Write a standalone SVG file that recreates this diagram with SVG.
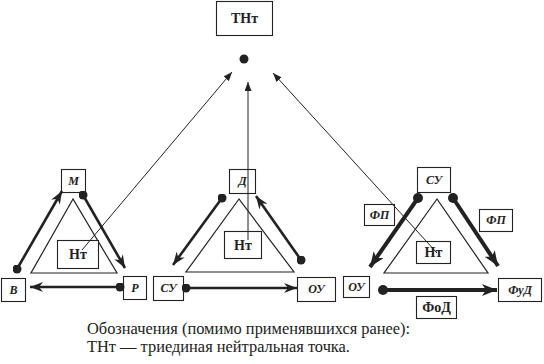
<svg xmlns="http://www.w3.org/2000/svg" width="544" height="364" viewBox="0 0 544 364">
<style>
.box{fill:#fff;stroke:#222;stroke-width:1.1}
.tri{fill:none;stroke:#222;stroke-width:1.2}
.lbl{font-family:"Liberation Serif",serif;font-weight:bold;font-style:italic;font-size:12px;fill:#222;text-anchor:middle}
.nt{font-family:"Liberation Serif",serif;font-weight:bold;font-size:14px;fill:#222;text-anchor:middle}
.note{font-family:"Liberation Serif",serif;font-size:16.4px;fill:#222}
.a2{fill:none;stroke:#222;stroke-width:2.6;marker-start:url(#dot);marker-end:url(#head)}
.a3{fill:none;stroke:#222;stroke-width:4;marker-start:url(#dot3);marker-end:url(#head3)}
.thin{fill:none;stroke:#222;stroke-width:1;marker-end:url(#thead)}
</style>
<defs>
<marker id="head" viewBox="0 0 13 10" refX="13" refY="5" markerWidth="13" markerHeight="10" markerUnits="userSpaceOnUse" orient="auto"><path d="M0,0 L13,5 L0,10 L4,5 z" fill="#222"/></marker>
<marker id="head3" viewBox="0 0 15 12" refX="15" refY="6" markerWidth="15" markerHeight="12" markerUnits="userSpaceOnUse" orient="auto"><path d="M0,0 L15,6 L0,12 L4,6 z" fill="#222"/></marker>
<marker id="dot" viewBox="0 0 10 10" refX="5" refY="5" markerWidth="9" markerHeight="9" markerUnits="userSpaceOnUse"><circle cx="5" cy="5" r="5" fill="#222"/></marker>
<marker id="dot3" viewBox="0 0 10 10" refX="5" refY="5" markerWidth="10" markerHeight="10" markerUnits="userSpaceOnUse"><circle cx="5" cy="5" r="5" fill="#222"/></marker>
<marker id="thead" viewBox="0 0 9 7" refX="9" refY="3.5" markerWidth="9" markerHeight="7" markerUnits="userSpaceOnUse" orient="auto"><path d="M0,0 L9,3.5 L0,7 z" fill="#222"/></marker>
</defs>

<g id="tnt">
<rect class="box" x="216.5" y="1.5" width="56" height="34"/>
<text class="nt" x="244.5" y="23" font-size="15">ТНт</text>
<circle cx="244" cy="59" r="4.5" fill="#222"/>
</g>

<g id="group1">
<polygon class="tri" points="73,199 31,273 117,273"/>
<g id="g1-M"><rect class="box" x="61.5" y="169.5" width="24" height="23"/><text class="lbl" x="73.5" y="185">М</text></g>
<g id="g1-V"><rect class="box" x="1.5" y="278.5" width="24" height="23"/><text class="lbl" x="13.5" y="294">В</text></g>
<g id="g1-R"><rect class="box" x="123.5" y="276.5" width="23" height="23"/><text class="lbl" x="135" y="292">Р</text></g>
<g id="g1-Nt"><rect class="box" x="57.5" y="240.5" width="41" height="28"/><text class="nt" x="78" y="259">Нт</text></g>
</g>

<g id="group2">
<polygon class="tri" points="239,199 186,272 294,272"/>
<g id="g2-D"><rect class="box" x="229.5" y="169.5" width="26" height="24"/><text class="lbl" x="242.5" y="185">Д</text></g>
<g id="g2-SU"><rect class="box" x="153.5" y="276.5" width="30" height="24"/><text class="lbl" x="168.5" y="292">СУ</text></g>
<g id="g2-OU"><rect class="box" x="297.5" y="277.5" width="38" height="24"/><text class="lbl" x="316.5" y="293">ОУ</text></g>
<g id="g2-Nt"><rect class="box" x="224.5" y="231.5" width="37" height="27"/><text class="nt" x="243" y="250">Нт</text></g>
</g>

<g id="group3">
<polygon class="tri" points="437,199 384,273 488,273"/>
<g id="g3-SU"><rect class="box" x="417.5" y="167.5" width="33" height="25"/><text class="lbl" x="434" y="184">СУ</text></g>
<g id="g3-FP1"><rect class="box" x="364.5" y="204.5" width="30" height="21"/><text class="lbl" x="379.5" y="219">ФП</text></g>
<g id="g3-FP2"><rect class="box" x="479.5" y="209.5" width="33" height="22"/><text class="lbl" x="496" y="224">ФП</text></g>
<g id="g3-OU"><rect class="box" x="343.5" y="276.5" width="26" height="21"/><text class="lbl" x="356.5" y="291">ОУ</text></g>
<g id="g3-FuD"><rect class="box" x="498.5" y="278.5" width="43" height="23"/><text class="lbl" x="520" y="294">ФуД</text></g>
<g id="g3-FoD"><rect class="box" x="416.5" y="296.5" width="40" height="22"/><text class="nt" x="436.5" y="312" font-size="12.5">ФоД</text></g>
<g id="g3-Nt"><rect class="box" x="416.5" y="241.5" width="34" height="22"/><text class="nt" x="433.5" y="257">Нт</text></g>
</g>

<g id="connectors">
<line class="a2" x1="17" y1="269" x2="62" y2="191"/>
<line class="a2" x1="83" y1="195" x2="125" y2="268"/>
<line class="a2" x1="120" y1="287" x2="30" y2="287"/>
<line class="a2" x1="222" y1="198" x2="173" y2="265"/>
<line class="a2" x1="301" y1="260" x2="256" y2="196"/>
<line class="a2" x1="186" y1="288" x2="297" y2="288"/>
<line class="a3" x1="418" y1="198" x2="370" y2="267"/>
<line class="a3" x1="453" y1="198" x2="498" y2="266"/>
<line class="a3" x1="383" y1="290" x2="497" y2="290"/>
<line class="thin" x1="82" y1="250" x2="232" y2="72"/>
<line class="thin" x1="248" y1="240" x2="248" y2="82"/>
<line class="thin" x1="437" y1="253" x2="273" y2="73"/>
</g>

<g id="legend">
<text class="note" x="87" y="334">Обозначения (помимо применявшихся ранее):</text>
<text class="note" x="87" y="352">ТНт — триединая нейтральная точка.</text>
</g>
</svg>
